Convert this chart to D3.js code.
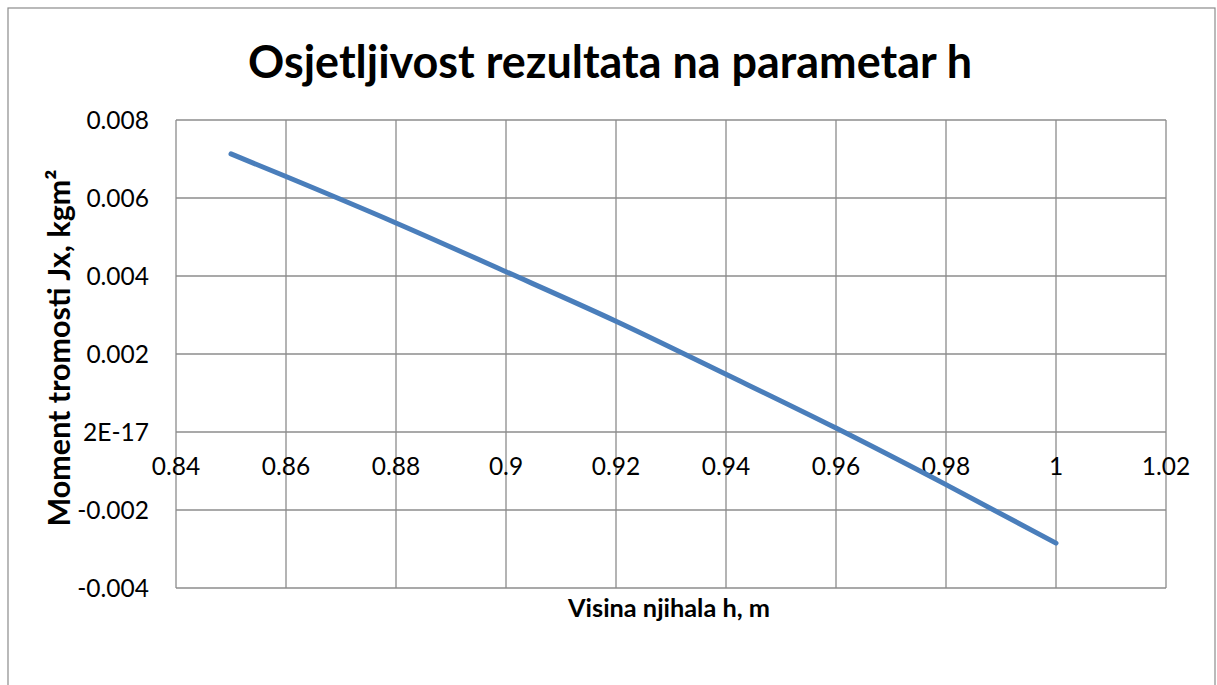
<!DOCTYPE html>
<html>
<head>
<meta charset="utf-8">
<script src="https://cdn.jsdelivr.net/npm/d3@7"></script>
<style>
  body { margin: 0; background: #fff; }
  text { font-family: Lato, "Open Sans", sans-serif; fill: #000; }
</style>
</head>
<body>
<svg id="chart" width="1217" height="685"></svg>
<script>
// values
var hValues = [0.85, 0.86, 0.88, 0.90, 0.92, 0.94, 0.96, 0.98, 1.00];
var jxValues = [0.00713, 0.00655, 0.00536, 0.00411, 0.00284, 0.00148, 0.00010, -0.00135, -0.00285];
var xTicks = [0.84, 0.86, 0.88, 0.90, 0.92, 0.94, 0.96, 0.98, 1.00, 1.02];
var xTickLabels = ["0.84", "0.86", "0.88", "0.9", "0.92", "0.94", "0.96", "0.98", "1", "1.02"];
var yTicks = [0.008, 0.006, 0.004, 0.002, 0, -0.002, -0.004];
var yTickLabels = ["0.008", "0.006", "0.004", "0.002", "2E-17", "-0.002", "-0.004"];

var titleText = "Osjetljivost rezultata na parametar h";
var xTitle = "Visina njihala h, m";
var yTitle = "Moment tromosti Jx, kgm²";

var gridColor = "#8c8c8c";
var lineColor = "#4a7ebb";

var svg = d3.select("#chart");

// outer chart border
svg.append("rect")
  .attr("x", 8).attr("y", 8)
  .attr("width", 1207).attr("height", 700)
  .attr("fill", "none")
  .attr("stroke", gridColor)
  .attr("stroke-width", 1.2);

var x = d3.scaleLinear().domain([0.84, 1.02]).range([176, 1166]);
var y = d3.scaleLinear().domain([-0.004, 0.008]).range([588, 120]);

// gridlines
svg.append("g").selectAll("line").data(xTicks).enter().append("line")
  .attr("x1", function(d) { return x(d); })
  .attr("x2", function(d) { return x(d); })
  .attr("y1", y(0.008)).attr("y2", y(-0.004))
  .attr("stroke", gridColor).attr("stroke-width", 1.3);

svg.append("g").selectAll("line").data(yTicks).enter().append("line")
  .attr("y1", function(d) { return y(d); })
  .attr("y2", function(d) { return y(d); })
  .attr("x1", x(0.84)).attr("x2", x(1.02))
  .attr("stroke", gridColor).attr("stroke-width", 1.3);

// tick labels
svg.append("g").selectAll("text").data(yTicks).enter().append("text")
  .attr("x", 149)
  .attr("y", function(d) { return y(d); })
  .attr("dy", "0.36em")
  .attr("text-anchor", "end")
  .attr("font-size", "24.5px")
  .text(function(d, i) { return yTickLabels[i]; });

svg.append("g").selectAll("text").data(xTicks).enter().append("text")
  .attr("x", function(d) { return x(d); })
  .attr("y", y(0) + 43)
  .attr("text-anchor", "middle")
  .attr("font-size", "24.5px")
  .text(function(d, i) { return xTickLabels[i]; });

// data line
var line = d3.line()
  .x(function(d, i) { return x(hValues[i]); })
  .y(function(d) { return y(d); })
  .curve(d3.curveMonotoneX);

svg.append("path")
  .datum(jxValues)
  .attr("d", line)
  .attr("fill", "none")
  .attr("stroke", lineColor)
  .attr("stroke-width", 5)
  .attr("stroke-linecap", "round");

// titles, sized to match the picture widths
function fitText(sel, width) {
  var w = sel.node().getComputedTextLength();
  var fs = parseFloat(sel.attr("font-size"));
  sel.attr("font-size", (fs * width / w).toFixed(2) + "px");
}

var t = svg.append("text")
  .attr("x", 610).attr("y", 78)
  .attr("text-anchor", "middle")
  .attr("font-weight", "bold")
  .attr("font-size", "38px")
  .text(titleText);
fitText(t, 724);

var xt = svg.append("text")
  .attr("x", 669).attr("y", 617)
  .attr("text-anchor", "middle")
  .attr("font-weight", "bold")
  .attr("font-size", "22px")
  .text(xTitle);
fitText(xt, 202);

var yt = svg.append("text")
  .attr("transform", "translate(70,348) rotate(-90)")
  .attr("text-anchor", "middle")
  .attr("font-weight", "bold")
  .attr("font-size", "22px")
  .text(yTitle);
fitText(yt, 357);
</script>
</body>
</html>
